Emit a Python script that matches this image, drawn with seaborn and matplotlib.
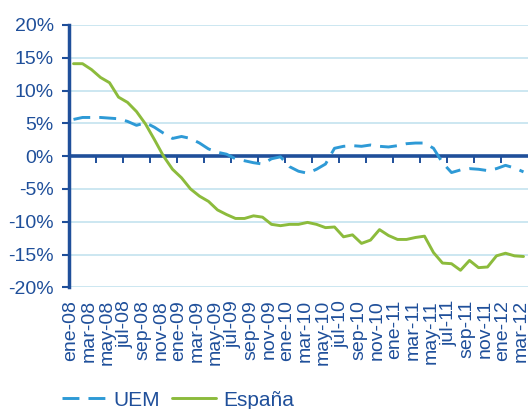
import numpy as np
import pandas as pd
import matplotlib
matplotlib.use("Agg")
import matplotlib.pyplot as plt
import matplotlib.transforms as mtransforms
import seaborn as sns

# month names (Spanish) and years covered: ene-08 .. mar-12
month_names = ["ene", "feb", "mar", "abr", "may", "jun",
               "jul", "ago", "sep", "oct", "nov", "dic"]
years = ["08", "09", "10", "11", "12"]
n_months = 51

# series values (%), one per month
uem = [5.6, 5.9, 5.9, 5.9, 5.8, 5.7, 5.3, 4.7, 5.1, 4.4,
       3.5, 2.7, 3.0, 2.7, 2.0, 1.1, 0.6, 0.3, -0.4, -0.7,
       -1.0, -1.2, -0.4, -0.1, -1.6, -2.3, -2.6, -2.0, -1.2, 1.2,
       1.5, 1.6, 1.5, 1.7, 1.5, 1.4, 1.6, 1.9, 2.0, 2.0,
       1.2, -1.0, -2.5, -2.1, -1.9, -2.0, -2.2, -1.9, -1.4, -1.8,
       -2.4]
espana = [14.1, 14.1, 13.2, 12.0, 11.2, 9.0, 8.2, 6.8, 4.9, 2.5,
          0.0, -2.0, -3.3, -5.0, -6.1, -6.9, -8.2, -8.9, -9.5, -9.5,
          -9.1, -9.3, -10.4, -10.6, -10.4, -10.4, -10.1, -10.4, -10.9, -10.8,
          -12.3, -12.0, -13.3, -12.8, -11.2, -12.1, -12.7, -12.7, -12.4, -12.2,
          -14.7, -16.3, -16.4, -17.4, -15.9, -17.0, -16.9, -15.2, -14.8, -15.2,
          -15.3]

y_ticks = [-20, -15, -10, -5, 0, 5, 10, 15, 20]

# build month labels
month_labels = [f"{month_names[i % 12]}-{years[i // 12]}" for i in range(n_months)]

df = pd.DataFrame({
    "idx": np.arange(n_months),
    "UEM": uem,
    "España": espana,
})

sns.set_style("white")
plt.rcParams["font.family"] = ["Liberation Sans", "DejaVu Sans"]

dark_blue = "#1f4f9a"
uem_blue = "#2e9ad6"
green = "#8cbb3c"
grid_blue = "#c4e3ef"

fig = plt.figure(figsize=(5.28, 4.09), dpi=100)
ax = fig.add_axes([0.1307, 0.2975, 0.8693, 0.6414])

sns.lineplot(data=df, x="idx", y="UEM", ax=ax, color=uem_blue, lw=2.1,
             label="UEM")
ax.lines[-1].set_dashes([5.8, 3.1])
sns.lineplot(data=df, x="idx", y="España", ax=ax, color=green, lw=2.1,
             label="España")

ax.set_xlim(-0.5, n_months - 0.5)
ax.set_ylim(-20, 20)
ax.set_xlabel("")
ax.set_ylabel("")

# y axis
ax.set_yticks(y_ticks)
ax.set_yticklabels([f"{v}%" for v in y_ticks])
ax.yaxis.grid(True, color=grid_blue, lw=1.2)
ax.set_axisbelow(True)
ax.tick_params(axis="y", direction="out", length=5, width=1.5, color=dark_blue,
               labelcolor=dark_blue, labelsize=14, pad=6, left=True)

# x labels at bottom, every two months
ax.set_xticks(np.arange(0, n_months, 2))
ax.set_xticklabels(month_labels[::2], rotation=90, va="top", ha="center")
ax.tick_params(axis="x", length=0, labelcolor=dark_blue, labelsize=14, pad=9)
shift = mtransforms.ScaledTranslation(-2.5 / 100, 0, fig.dpi_scale_trans)
for lab in ax.get_xticklabels():
    lab.set_transform(lab.get_transform() + shift)

for side in ["top", "right", "bottom"]:
    ax.spines[side].set_visible(False)
ax.spines["left"].set_color(dark_blue)
ax.spines["left"].set_linewidth(2.5)

# zero line with tick marks every three months
ax.axhline(0, color=dark_blue, lw=2.6, zorder=1.5)
zero_ax = ax.secondary_xaxis(0.5)
zero_ax.xaxis.set_ticks_position("top")
zero_ax.set_xticks(np.arange(2.5, n_months - 1, 3))
zero_ax.set_xticklabels([])
zero_ax.tick_params(direction="in", length=5, width=1.4, color=dark_blue)
for sp in zero_ax.spines.values():
    sp.set_visible(False)

ax.get_legend().remove()
handles, labels = ax.get_legend_handles_labels()
fig.legend(handles, labels, loc="center left", bbox_to_anchor=(0.118, 0.022),
           ncol=2, frameon=False, fontsize=15, handlelength=2.1,
           handletextpad=0.35, columnspacing=0.6, borderpad=0, borderaxespad=0,
           labelcolor=dark_blue)

fig.savefig("out.png", dpi=100)
